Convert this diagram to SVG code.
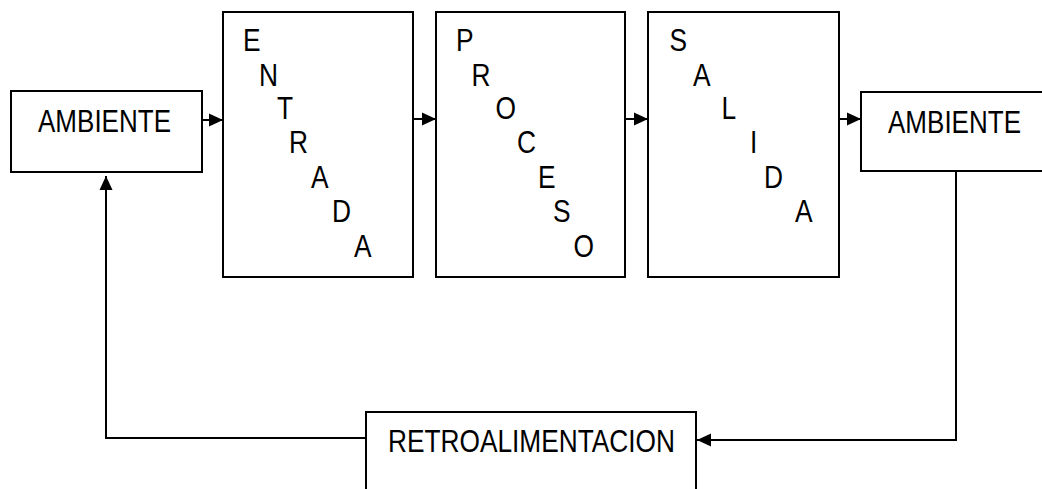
<svg xmlns="http://www.w3.org/2000/svg" width="1042" height="489" viewBox="0 0 1042 489">
<style>
.box{fill:#fff;stroke:#000;stroke-width:2}
.t{font-family:"Liberation Sans",Arial,sans-serif;font-size:31px;fill:#000}
.c{fill:none;stroke:#000;stroke-width:2}
</style>
<defs>
<marker id="ah" markerUnits="userSpaceOnUse" markerWidth="15" markerHeight="14" refX="14" refY="7" orient="auto">
<path d="M0,0.5 L14,7 L0,13.5 z" fill="#000"/>
</marker>
</defs>
<rect width="1042" height="489" fill="#fff"/>
<g id="ambiente-in">
<rect class="box" x="11" y="91" width="191" height="81"/>
<text class="t" x="38" y="132" textLength="133" lengthAdjust="spacingAndGlyphs">AMBIENTE</text>
</g>
<g id="entrada">
<rect class="box" x="223" y="12" width="190" height="265"/>
<g class="t">
<text transform="translate(243,51) scale(0.85,1)">E</text>
<text transform="translate(259,86) scale(0.85,1)">N</text>
<text transform="translate(277,119) scale(0.85,1)">T</text>
<text transform="translate(289,153) scale(0.85,1)">R</text>
<text transform="translate(311,188) scale(0.85,1)">A</text>
<text transform="translate(332,222) scale(0.85,1)">D</text>
<text transform="translate(354,257) scale(0.85,1)">A</text>
</g>
</g>
<g id="proceso">
<rect class="box" x="436" y="12" width="189" height="265"/>
<g class="t">
<text transform="translate(456,51) scale(0.85,1)">P</text>
<text transform="translate(471.5,86) scale(0.85,1)">R</text>
<text transform="translate(495.5,119) scale(0.85,1)">O</text>
<text transform="translate(517,153) scale(0.85,1)">C</text>
<text transform="translate(538,188) scale(0.85,1)">E</text>
<text transform="translate(553,222) scale(0.85,1)">S</text>
<text transform="translate(573.5,257) scale(0.85,1)">O</text>
</g>
</g>
<g id="salida">
<rect class="box" x="648" y="12" width="191" height="265"/>
<g class="t">
<text transform="translate(669.5,51) scale(0.85,1)">S</text>
<text transform="translate(693,86) scale(0.85,1)">A</text>
<text transform="translate(721.5,119) scale(0.85,1)">L</text>
<text transform="translate(750,153) scale(0.85,1)">I</text>
<text transform="translate(764,188) scale(0.85,1)">D</text>
<text transform="translate(795,222) scale(0.85,1)">A</text>
</g>
</g>
<g id="ambiente-out">
<rect x="861" y="92" width="181" height="79" fill="#fff"/>
<path class="c" d="M1042,92 H861 V171 H1042"/>
<text class="t" x="888" y="133" textLength="133" lengthAdjust="spacingAndGlyphs">AMBIENTE</text>
</g>
<g id="retroalimentacion">
<rect x="366" y="412" width="330" height="77" fill="#fff"/>
<path class="c" d="M366,489 V412 H696 V489"/>
<text class="t" x="388" y="452" textLength="287" lengthAdjust="spacingAndGlyphs">RETROALIMENTACION</text>
</g>
<g id="connectors">
<line class="c" x1="202" y1="120" x2="223" y2="120" marker-end="url(#ah)"/>
<line class="c" x1="413" y1="119" x2="436" y2="119" marker-end="url(#ah)"/>
<line class="c" x1="625" y1="119" x2="648" y2="119" marker-end="url(#ah)"/>
<line class="c" x1="839" y1="119" x2="861" y2="119" marker-end="url(#ah)"/>
<polyline class="c" points="956,171 956,440 697,440" marker-end="url(#ah)"/>
<polyline class="c" points="366,438 106,438 106,176" marker-end="url(#ah)"/>
</g>
</svg>
